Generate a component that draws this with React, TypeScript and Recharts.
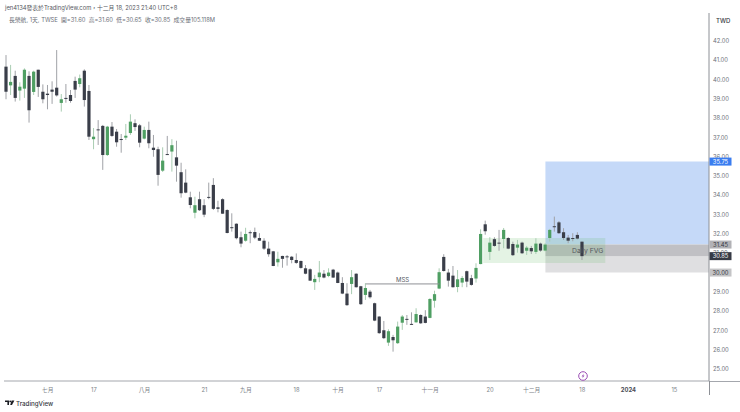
import { Bar, ComposedChart, ReferenceArea, ReferenceLine, XAxis, YAxis } from "recharts";

const opens = [
  40.67, 39.70, 40.19, 39.43, 39.53, 40.19, 39.36, 40.51, 39.37, 39.27,
  39.48, 39.58, 38.79, 39.05, 39.20, 39.93, 39.77, 40.46, 39.41, 36.91,
  37.42, 37.60, 36.09, 37.56, 37.30, 36.92, 36.99, 37.23, 37.74, 37.63,
  36.94, 37.39, 36.47, 36.39, 35.28, 36.14, 36.27, 35.97, 35.20, 34.66,
  33.90, 33.10, 33.80, 33.49, 33.92, 34.54, 33.38, 33.80, 33.24, 32.35,
  32.53, 31.83, 31.65, 32.09, 32.10, 31.79, 31.65, 31.24, 31.10, 30.53,
  30.86, 30.84, 30.82, 30.65, 30.60, 30.22, 30.17, 29.50, 29.76, 29.94,
  29.82, 30.15, 30.00, 29.46, 28.91, 29.41, 29.94, 29.29, 28.84, 29.01,
  28.41, 27.72, 27.01, 26.37, 26.66, 26.34, 27.40, 27.60, 27.34, 27.42,
  27.80, 27.72, 27.65, 28.54, 29.17, 30.81, 30.00, 29.84, 29.25, 29.48,
  30.07, 29.71, 29.69, 30.44, 32.50, 31.07, 31.73, 31.55, 31.74, 31.79,
  31.48, 31.29, 31.55, 31.13, 31.27, 31.07, 31.50, 31.14, 31.79, 32.40,
  32.60, 32.09, 31.81, 31.79, 31.95, 31.60,
];
const closes = [
  39.37, 39.88, 39.05, 39.63, 40.51, 38.41, 40.41, 39.62, 38.98, 39.20,
  39.37, 39.18, 38.98, 39.00, 38.89, 39.48, 40.07, 38.94, 37.04, 37.04,
  37.37, 36.09, 37.56, 37.08, 36.75, 36.89, 37.09, 37.82, 37.54, 36.73,
  37.39, 36.70, 36.35, 35.06, 35.80, 36.11, 36.60, 35.54, 34.11, 34.14,
  33.50, 33.49, 33.23, 33.00, 33.87, 33.30, 33.30, 33.05, 32.05, 32.30,
  31.78, 31.50, 32.00, 32.04, 31.81, 31.65, 31.24, 30.95, 30.34, 30.71,
  30.71, 30.81, 30.65, 30.50, 30.24, 29.94, 29.58, 29.67, 30.00, 29.74,
  30.00, 29.74, 29.46, 28.91, 28.31, 29.76, 29.24, 28.36, 29.20, 28.72,
  27.51, 26.86, 26.60, 26.96, 26.49, 27.20, 27.72, 27.56, 27.30, 27.85,
  27.37, 27.39, 28.63, 28.88, 30.02, 30.08, 29.58, 29.24, 29.65, 29.72,
  29.53, 29.36, 30.24, 32.00, 32.14, 31.55, 31.38, 31.52, 32.21, 31.24,
  30.90, 31.45, 31.00, 31.29, 31.10, 31.50, 31.14, 31.45, 32.21, 32.35,
  32.04, 31.79, 31.65, 31.76, 31.76, 30.85,
];
const highs = [
  41.27, 40.76, 40.46, 39.86, 40.58, 40.43, 40.46, 40.51, 39.75, 39.72,
  39.91, 41.53, 39.25, 39.77, 39.46, 40.15, 40.26, 40.53, 39.72, 37.49,
  37.90, 37.65, 37.60, 37.80, 37.44, 37.18, 37.70, 38.20, 37.94, 37.70,
  37.56, 37.82, 37.13, 36.52, 36.49, 37.08, 36.91, 36.83, 35.69, 35.35,
  34.19, 33.93, 34.19, 33.80, 34.66, 34.89, 33.72, 33.85, 33.28, 33.07,
  32.55, 32.12, 32.32, 32.18, 32.33, 32.04, 31.78, 31.60, 31.12, 31.08,
  30.87, 30.91, 30.86, 30.99, 30.62, 30.39, 30.22, 29.88, 30.60, 30.13,
  30.22, 30.19, 30.05, 29.76, 29.45, 30.13, 29.96, 29.31, 29.45, 29.10,
  28.44, 27.74, 27.49, 27.06, 26.77, 27.46, 27.80, 27.80, 27.94, 28.15,
  27.84, 28.05, 28.67, 29.06, 30.22, 30.95, 30.19, 30.34, 30.13, 29.82,
  30.10, 29.88, 30.48, 32.24, 32.69, 31.83, 31.83, 32.21, 32.31, 31.83,
  31.60, 31.69, 31.60, 31.38, 31.38, 31.78, 31.55, 31.52, 32.26, 32.90,
  32.67, 32.30, 31.95, 32.04, 32.09, 31.60,
];
const lows = [
  38.98, 39.20, 38.86, 38.91, 39.05, 37.77, 39.20, 39.10, 38.77, 38.46,
  38.74, 39.12, 38.34, 38.80, 38.80, 39.05, 39.60, 38.60, 36.87, 36.39,
  36.61, 35.32, 36.04, 37.03, 36.52, 36.21, 36.87, 37.13, 37.34, 36.49,
  36.90, 36.44, 36.00, 34.50, 35.21, 36.09, 35.23, 34.71, 33.88, 34.11,
  33.33, 32.81, 33.19, 32.87, 33.80, 33.24, 33.12, 33.04, 32.03, 32.12,
  31.72, 31.31, 31.60, 31.52, 31.73, 31.64, 31.17, 30.82, 30.33, 30.31,
  30.25, 30.36, 30.48, 30.45, 30.20, 29.91, 29.57, 29.10, 29.50, 29.70,
  29.76, 29.72, 29.45, 28.88, 28.27, 28.88, 29.22, 28.32, 28.58, 28.65,
  27.48, 26.82, 26.55, 26.20, 25.90, 26.30, 27.03, 27.29, 27.29, 27.40,
  27.34, 27.37, 27.63, 28.18, 29.14, 30.05, 29.27, 29.22, 28.98, 29.24,
  29.24, 29.32, 29.48, 30.43, 31.96, 30.65, 31.34, 31.13, 31.26, 31.21,
  30.86, 31.03, 30.96, 30.91, 30.96, 30.96, 31.08, 31.10, 31.60, 32.12,
  32.00, 31.69, 31.52, 31.62, 31.72, 30.65,
];

const dateTicks = [9, 19, 30, 43, 52, 63, 72, 81, 92, 105, 114, 125, 135, 145];
const dateLabels = ["七月", "17", "八月", "21", "九月", "18", "十月", "17", "十一月", "20", "十二月", "18", "2024", "15"];
const priceTicks = [42, 41, 40, 39, 38, 37, 36, 35, 34, 33, 32, 31, 29, 28, 27, 26, 25];

const badges: Record<number, { fill: string; text: string }> = {
  35.75: { fill: "#3a7df0", text: "#ffffff" },
  31.45: { fill: "#b2b2b6", text: "#33363e" },
  30: { fill: "#c4c4c6", text: "#33363e" },
  30.85: { fill: "#363a45", text: "#ffffff" },
};
const badgeTicks = [35.75, 31.45, 30, 30.85];

const data = opens.map((open, i) => ({
  idx: i,
  open,
  close: closes[i],
  high: highs[i],
  low: lows[i],
  range: [lows[i], highs[i]],
}));

const DARK = "#3a3e49";
const GREEN = "#4f9f63";
const FONT = "Inter, 'Noto Sans CJK TC', sans-serif";
const SMALL = 5.8;

function Candle(props: any) {
  const { x, y, width, height, payload } = props;
  const { open, close, high, low } = payload;
  const up = close >= open;
  const span = high - low || 1;
  const top = y + ((high - Math.max(open, close)) / span) * height;
  const bottom = y + ((high - Math.min(open, close)) / span) * height;
  const cx = x + width / 2;
  return (
    <g>
      <line x1={cx} x2={cx} y1={y} y2={y + height} stroke={up ? "#a9cdb2" : "#a0a2a7"} strokeWidth={1} />
      <rect x={cx - 1.6} y={top} width={3.2} height={Math.max(bottom - top, 1)} fill={up ? GREEN : DARK} />
    </g>
  );
}

function PriceTick(props: any) {
  const { y, payload } = props;
  const value = payload.value;
  const badge = badges[value];
  if (badge) {
    return (
      <g>
        <rect x={709.5} y={y - 4} width={22} height={8} fill={badge.fill} />
        <text x={720.5} y={y + 2.1} textAnchor="middle" fontSize={SMALL} fontFamily={FONT} fill={badge.text}>
          {value.toFixed(2)}
        </text>
      </g>
    );
  }
  return (
    <text x={713} y={y + 2.1} fontSize={SMALL} fontFamily={FONT} fill="#6b6f78">
      {value.toFixed(2)}
    </text>
  );
}

function DateTick(props: any) {
  const { x, y, payload } = props;
  const label = dateLabels[dateTicks.indexOf(payload.value)];
  const bold = label === "2024";
  return (
    <text x={x} y={y + 3.2} textAnchor="middle" fontSize={SMALL} fontWeight={bold ? 700 : 400} fontFamily={FONT} fill={bold ? "#4a4d55" : "#7c7f87"}>
      {label}
    </text>
  );
}

export default function App() {
  return (
    <div style={{ position: "absolute", left: 0, top: 0, width: 740, height: 412, background: "#fff", overflow: "hidden", fontFamily: FONT }}>
      <ComposedChart width={740} height={412} data={data} margin={{ top: 13, right: 0, bottom: 0, left: 4 }}>
        <XAxis
          dataKey="idx"
          type="number"
          domain={[-0.5, 152.5]}
          allowDataOverflow
          ticks={dateTicks}
          interval={0}
          height={31}
          tick={DateTick}
          tickLine={false}
          axisLine={{ stroke: "#a4a7ad" }}
        />
        <YAxis
          orientation="right"
          type="number"
          domain={[24.38, 43.45]}
          allowDataOverflow
          ticks={[...priceTicks, ...badgeTicks]}
          interval={0}
          width={31}
          tick={PriceTick}
          tickLine={false}
          axisLine={{ stroke: "#8d9096" }}
        />
        <ReferenceArea x1={117} x2={152.5} y1={31.45} y2={35.75} fill="#c5d9f8" fillOpacity={1} stroke="none" />
        <ReferenceArea x1={117} x2={152.5} y1={30} y2={30.85} fill="#dfdfe1" fillOpacity={1} stroke="none" />
        <ReferenceArea x1={117} x2={152.5} y1={30.85} y2={31.45} fill="#c0c0c4" fillOpacity={1} stroke="none" />
        <ReferenceArea
          x1={103.5}
          x2={130}
          y1={30.5}
          y2={31.79}
          fill="#5cb85c"
          fillOpacity={0.17}
          stroke="none"
          label={{ value: "Daily FVG", position: "insideRight", offset: 2, fontSize: 6.8, fill: "#55585f", fontFamily: FONT }}
        />
        <ReferenceLine
          segment={[{ x: 78, y: 29.41 }, { x: 94, y: 29.41 }]}
          stroke="#8f9196"
          strokeWidth={1}
          label={{ value: "MSS", position: "top", offset: 2, fontSize: 6, fill: "#55585f", fontFamily: FONT }}
        />
        <Bar dataKey="range" barSize={4} shape={Candle} isAnimationActive={false} />
      </ComposedChart>

      <div style={{ position: "absolute", left: 5, top: 3, fontSize: SMALL, lineHeight: "10px", color: "#555860", whiteSpace: "nowrap" }}>
        jen4134發表於TradingView.com，十二月 18, 2023 21:40 UTC+8
      </div>
      <div style={{ position: "absolute", left: 9, top: 15, fontSize: SMALL, lineHeight: "10px", color: "#6b6f78", whiteSpace: "pre" }}>
        {"長榮航, 1天, TWSE  開=31.60  高=31.60  低=30.65  收=30.85  成交量105.118M"}
      </div>
      <div style={{ position: "absolute", left: 716, top: 16, fontSize: 6, lineHeight: "10px", fontWeight: 500, color: "#33363e" }}>TWD</div>

      <div style={{ position: "absolute", left: 709, top: 381, width: 31, height: 1, background: "#a4a7ad" }} />
      <div style={{ position: "absolute", left: 709, top: 381, width: 1, height: 14, background: "#8d9096" }} />

      <svg style={{ position: "absolute", left: 576, top: 369 }} width={14} height={14}>
        <circle cx={7} cy={7} r={4.3} fill="#fff" stroke="#9c4fb5" strokeWidth={1} />
        <path d="M7.8 4.4 5.6 7.4h1.4l-.7 2.2 2.2-3H7.1z" fill="#9c4fb5" />
      </svg>

      <svg style={{ position: "absolute", left: 5, top: 400 }} width={10} height={8}>
        <path d="M0 .5h4v4.5H2.4V2H0z" fill="#1a1c22" />
        <circle cx={5.2} cy={1.4} r={0.9} fill="#1a1c22" />
        <path d="M6.6 .5h2.8L7 5H5.2z" fill="#1a1c22" />
      </svg>
      <div style={{ position: "absolute", left: 16, top: 399, fontSize: 6.2, lineHeight: "10px", fontWeight: 500, color: "#33363e" }}>TradingView</div>
    </div>
  );
}
